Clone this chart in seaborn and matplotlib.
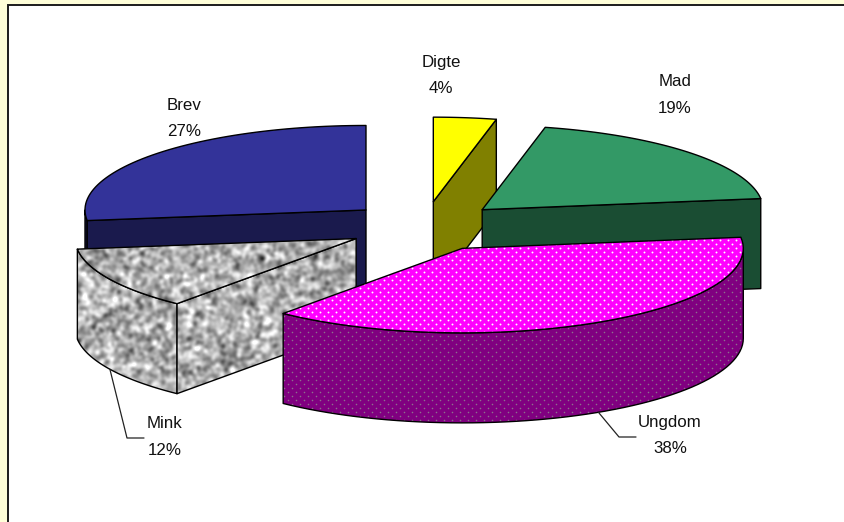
#!/usr/bin/env python3

import numpy as np
import matplotlib
matplotlib.use("Agg")
import matplotlib.pyplot as plt
from matplotlib.patches import Polygon, Rectangle
import seaborn as sns

categories = ["Digte", "Mad", "Ungdom", "Mink", "Brev"]
values = [3.6, 19.3, 38.1, 12.0, 27.0]
top_colors = ["#ffff00", "#339966", "#ff00ff", "#b4b4b4", "#333399"]
side_colors = ["#808000", "#1a4d33", "#800080", "#a8a8a8", "#1a1a4d"]

# ellipse and extrusion in pixels
CX, CY = 424.5, 226.5
RX, RY = 281, 84.5
EX, EY = 78, 25
DEPTH = 90

sns.set_theme(style="white")
plt.rcParams['font.family'] = ['Liberation Sans', 'DejaVu Sans']


def arc(apex, b0, b1, n=60):
    b = np.radians(np.linspace(b0, b1, n))
    return np.column_stack([apex[0] + RX * np.sin(b), apex[1] - RY * np.cos(b)])


def extrude(edge):
    low = edge[::-1] + [0, DEPTH]
    return np.vstack([edge, low])


def granite(seed=3, size=(522, 844)):
    # only a surface texture, not chart data
    rng = np.random.default_rng(seed)
    noise = rng.normal(size=size)
    fy = np.fft.fftfreq(size[0])[:, None]
    fx = np.fft.fftfreq(size[1])[None, :]
    soft = np.fft.ifft2(np.fft.fft2(noise) * np.exp(-(fx**2 + fy**2) * 2 * (np.pi * 1.9)**2)).real
    return soft / soft.std()


def dots(ax, clip, color, size):
    gx, gy = np.meshgrid(np.arange(0, 844, 8.0), np.arange(0, 522, 4.0))
    gx = gx + (np.arange(gx.shape[0])[:, None] % 2) * 4
    pts = ax.scatter(gx.ravel(), gy.ravel(), s=size, c=color, linewidths=0, zorder=ax_z[0])
    pts.set_clip_path(clip)


def face(ax, pts, idx, is_top):
    ax_z[0] += 1
    z = ax_z[0]
    color = top_colors[idx] if is_top else side_colors[idx]
    name = categories[idx]
    if name == "Mink":
        poly = Polygon(pts, closed=True, fc="none", ec="none", transform=ax.transData)
        ax.add_patch(poly)
        img = ax.imshow(texture, cmap="gray", vmin=-5.6, vmax=2.6, extent=(0, 844, 522, 0),
                        aspect="auto", interpolation="bilinear", zorder=z)
        img.set_clip_path(poly)
    else:
        ax.add_patch(Polygon(pts, closed=True, fc=color, ec="none", zorder=z))
    if name == "Ungdom":
        poly = Polygon(pts, closed=True, fc="none", ec="none", transform=ax.transData)
        ax.add_patch(poly)
        ax_z[0] += 1
        dots(ax, poly, "white" if is_top else "#8c708c", 1.9 if is_top else 1.3)
    ax_z[0] += 1
    ax.add_patch(Polygon(pts, closed=True, fc="none", ec="black", lw=1.0, joinstyle="round", zorder=ax_z[0]))


def draw_slice(ax, idx, b0, b1):
    mid = np.radians((b0 + b1) / 2)
    apex = np.array([CX + EX * np.sin(mid), CY - EY * np.cos(mid)])

    # outer wall, only the part on the near side
    w0, w1 = max(b0, 90), min(b1, 270)
    if w1 > w0:
        face(ax, extrude(arc(apex, w0, w1)), idx, False)

    # cut faces that look towards the viewer
    if np.cos(np.radians(b0 - 90)) < -1e-6:
        edge = np.vstack([apex, arc(apex, b0, b0, 1)])
        face(ax, extrude(edge), idx, False)
    if np.cos(np.radians(b1 + 90)) < -1e-6:
        edge = np.vstack([apex, arc(apex, b1, b1, 1)])
        face(ax, extrude(edge), idx, False)

    face(ax, np.vstack([apex, arc(apex, b0, b1)]), idx, True)
    return apex, mid


texture = granite()
ax_z = [2]

fig = plt.figure(figsize=(8.44, 5.22), dpi=100, facecolor="#ffffd9")
ax = fig.add_axes([0, 0, 1, 1])
ax.set_facecolor("#ffffd9")
ax.set_xlim(0, 844)
ax.set_ylim(522, 0)
ax.axis("off")
# frame runs off the right and bottom of the picture
ax.add_patch(Rectangle((7.5, 5), 860, 540, fc="white", ec="#1c1c1c", lw=1.4, zorder=1))

edges = np.concatenate([[0], np.cumsum(values)]) * 3.6
order = [4, 0, 1, 3, 2]
anchor = {}
for i in order:
    anchor[i] = draw_slice(ax, i, edges[i], edges[i + 1])

# labels
label_pos = {"Digte": (441, 62), "Mad": (675, 82), "Ungdom": (670, 422), "Mink": (165, 424), "Brev": (184, 105)}
for i, name in enumerate(categories):
    x, y = label_pos[name]
    ax.text(x, y, name, ha="center", va="center", fontsize=12.2, color="#111111", zorder=100)
    ax.text(x, y + 26.5, f"{round(values[i])}%", ha="center", va="center", fontsize=12.2, color="#111111", zorder=100)

# leader lines from the foot of the wall
elbows = {"Mink": [(127, 438), (144, 438)], "Ungdom": [(619, 437), (636, 437)]}
for name, pts in elbows.items():
    i = categories.index(name)
    apex, mid = anchor[i]
    start = (apex[0] + RX * np.sin(mid), apex[1] - RY * np.cos(mid) + DEPTH)
    xs, ys = zip(start, *pts)
    ax.plot(xs, ys, color="#222222", lw=0.9, zorder=99)

ax.set_xlim(0, 844)
ax.set_ylim(522, 0)
fig.savefig("out.png", dpi=100, facecolor=fig.get_facecolor())
